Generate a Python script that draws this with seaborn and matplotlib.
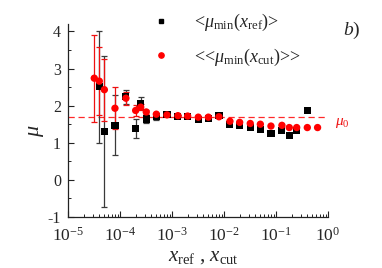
import numpy as np
import pandas as pd
import matplotlib
matplotlib.use("Agg")
import matplotlib.pyplot as plt
import seaborn as sns
from matplotlib.ticker import LogLocator, MultipleLocator, FuncFormatter, NullFormatter
from matplotlib.lines import Line2D

# ---- data ----
ref_x = [4.0e-5, 5.0e-5, 8.0e-5, 1.3e-4, 2.0e-4, 2.5e-4, 3.2e-4, 5.0e-4, 8.0e-4, 1.3e-3,
         2.0e-3, 3.2e-3, 5.0e-3, 8.0e-3, 1.3e-2, 2.0e-2, 3.2e-2, 5.0e-2, 8.0e-2, 0.13,
         0.18, 0.25, 0.40]
ref_y = [2.51, 1.30, 1.47, 2.24, 1.39, 2.07, 1.64, 1.70, 1.75, 1.72,
         1.70, 1.62, 1.65, 1.74, 1.49, 1.46, 1.42, 1.36, 1.25, 1.33,
         1.19, 1.34, 1.86]
ref_err = [1.51, 2.03, 0.81, 0.19, 0.25, 0.17, 0.12, 0.08, 0.03, 0.02,
           0.0, 0.0, 0.0, 0.0, 0.0, 0.0, 0.0, 0.0, 0.0, 0.0,
           0.0, 0.0, 0.0]

cut_x = [3.2e-5, 4.0e-5, 5.0e-5, 8.0e-5, 1.3e-4, 2.0e-4, 2.5e-4, 3.2e-4, 5.0e-4, 8.0e-4,
         1.3e-3, 2.0e-3, 3.2e-3, 5.0e-3, 8.0e-3, 1.3e-2, 2.0e-2, 3.2e-2, 5.0e-2, 8.0e-2,
         0.13, 0.18, 0.25, 0.40, 0.63]
cut_y = [2.74, 2.66, 2.43, 1.93, 2.20, 1.87, 1.96, 1.83, 1.77, 1.75,
         1.73, 1.72, 1.69, 1.69, 1.70, 1.58, 1.55, 1.52, 1.50, 1.45,
         1.47, 1.41, 1.41, 1.41, 1.41]
cut_err = [1.17, 0.91, 0.84, 0.57, 0.17, 0.16, 0.08, 0.06, 0.04, 0.03,
           0.02, 0.0, 0.0, 0.0, 0.0, 0.0, 0.0, 0.0, 0.0, 0.0,
           0.0, 0.0, 0.0, 0.0, 0.0]

mu0 = 1.69
legend_labels = [r"<$\mu_{\rm min}(x_{\rm ref})$>", r"<<$\mu_{\rm min}(x_{\rm cut})$>>"]

# ---- style ----
sns.set_theme(style="ticks")
plt.rcParams["font.family"] = ["Liberation Serif", "DejaVu Serif"]
plt.rcParams["mathtext.fontset"] = "custom"
plt.rcParams["mathtext.rm"] = "Liberation Serif"
plt.rcParams["mathtext.it"] = "Liberation Serif:italic"
plt.rcParams["mathtext.bf"] = "Liberation Serif:bold"

W, H = 382, 268
fig = plt.figure(figsize=(W / 100, H / 100), dpi=100)
L, R, T, B = 68, 328, 24, 217
ax = fig.add_axes([L / W, 1 - B / H, (R - L) / W, (B - T) / H])

df_ref = pd.DataFrame({"x": ref_x, "y": ref_y, "err": ref_err})
df_cut = pd.DataFrame({"x": cut_x, "y": cut_y, "err": cut_err})

ax.axhline(mu0, color="#ff2a2a", lw=0.9, ls=(0, (5, 3)), zorder=1)

# error bars
e1 = df_ref[df_ref.err > 0]
ax.errorbar(e1.x, e1.y, yerr=e1.err, fmt="none", ecolor="#3a3a3a", elinewidth=0.9,
            capsize=2.2, capthick=0.9, zorder=2)
e2 = df_cut[df_cut.err > 0]
ax.errorbar(e2.x, e2.y, yerr=e2.err, fmt="none", ecolor="#ee1111", elinewidth=0.9,
            capsize=2.2, capthick=0.9, zorder=3)

sns.scatterplot(data=df_ref, x="x", y="y", marker="s", s=26, color="black",
                edgecolor="none", ax=ax, zorder=4, legend=False)
sns.scatterplot(data=df_cut, x="x", y="y", marker="o", s=28, color="#ff0000",
                edgecolor="none", ax=ax, zorder=5, legend=False)

ax.set_xscale("log")
ax.set_xlim(1e-5, 1)
ax.set_ylim(-1, 4.2)
ax.set_xlabel("")
ax.set_ylabel("")

ax.xaxis.set_major_locator(LogLocator(base=10, numticks=10))
ax.xaxis.set_minor_locator(LogLocator(base=10, subs=np.arange(2, 10), numticks=100))
ax.xaxis.set_minor_formatter(NullFormatter())
ax.xaxis.set_major_formatter(FuncFormatter(lambda v, p: r"$10^{%d}$" % int(round(np.log10(v)))))
ax.yaxis.set_major_locator(MultipleLocator(1))
ax.yaxis.set_minor_locator(MultipleLocator(0.5))
ax.yaxis.set_major_formatter(FuncFormatter(lambda v, p: "%d" % v))

ax.tick_params(axis="both", which="major", direction="in", length=4, width=0.8,
               color="#222222")
ax.tick_params(axis="both", which="minor", direction="in", length=2, width=0.7,
               color="#222222")
ax.tick_params(axis="x", labelsize=12.5, pad=7)
ax.tick_params(axis="y", labelsize=11.5, pad=5)
for s in ["top", "right"]:
    ax.spines[s].set_visible(False)
for s in ["left", "bottom"]:
    ax.spines[s].set_linewidth(0.9)
    ax.spines[s].set_color("#222222")

# axis labels
fig.text(37 / W, 1 - 131 / H, r"$\mu$", rotation=90, ha="center", va="center", fontsize=16)
fig.text(203 / W, 1 - 257 / H, r"$x_{\rm ref}$ , $x_{\rm cut}$", ha="center", va="center",
         fontsize=15)

# mu0 label
fig.text(335 / W, 1 - 123 / H, r"$\mu_0$", color="#ee1111", ha="left", va="center", fontsize=11)

# b) label
fig.text(343 / W, 1 - 30 / H, r"$b$)", ha="left", va="center", fontsize=14)

# legend
handles = [Line2D([], [], marker="s", color="black", ls="none", markersize=3.5),
           Line2D([], [], marker="o", color="#ff0000", ls="none", markersize=3.8)]
leg = fig.legend(handles, legend_labels, loc="upper left",
                 bbox_to_anchor=(152 / W, 1 - 12 / H), frameon=False, fontsize=13,
                 handlelength=1.0, handletextpad=1.3, labelspacing=0.75,
                 borderpad=0, borderaxespad=0)

fig.savefig("out.png", dpi=100)
